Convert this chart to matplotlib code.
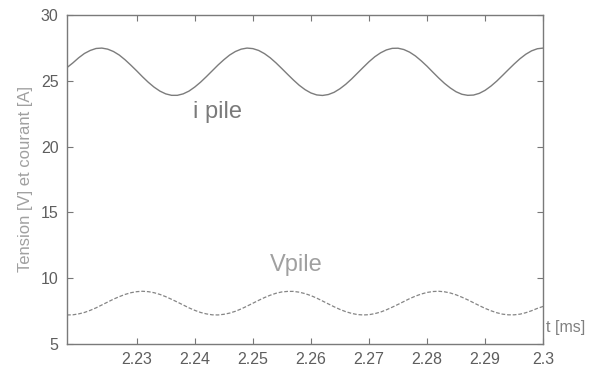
import numpy as np
import matplotlib.pyplot as plt

# time axis [ms], sampled every 0.001 ms
t = np.linspace(2.218, 2.300, 83)

# courant pile [A]
i_pile = [26.00, 26.35, 26.74, 27.07, 27.30, 27.45, 27.48, 27.40, 27.22, 26.95,
          26.59, 26.18, 25.75, 25.30, 24.88, 24.51, 24.21, 24.00, 23.89, 23.89,
          24.00, 24.21, 24.52, 24.89, 25.31, 25.75, 26.19, 26.59, 26.95, 27.22,
          27.40, 27.48, 27.44, 27.30, 27.06, 26.74, 26.35, 25.92, 25.48, 25.05,
          24.65, 24.32, 24.07, 23.92, 23.88, 23.95, 24.12, 24.39, 24.73, 25.13,
          25.57, 26.01, 26.44, 26.82, 27.12, 27.34, 27.46, 27.47, 27.37, 27.17,
          26.88, 26.51, 26.10, 25.65, 25.21, 24.80, 24.45, 24.16, 23.97, 23.89,
          23.91, 24.04, 24.27, 24.59, 24.97, 25.40, 25.84, 26.27, 26.67, 27.01,
          27.27, 27.43, 27.48]

# tension pile [V]
v_pile = [7.20, 7.21, 7.28, 7.39, 7.55, 7.74, 7.96, 8.18, 8.40, 8.59,
          8.76, 8.89, 8.97, 9.00, 8.97, 8.89, 8.76, 8.59, 8.39, 8.18,
          7.96, 7.74, 7.55, 7.39, 7.28, 7.21, 7.20, 7.25, 7.34, 7.48,
          7.66, 7.87, 8.09, 8.31, 8.52, 8.70, 8.85, 8.95, 8.99, 8.99,
          8.93, 8.82, 8.67, 8.48, 8.26, 8.04, 7.82, 7.62, 7.45, 7.32,
          7.23, 7.20, 7.22, 7.30, 7.42, 7.59, 7.79, 8.00, 8.22, 8.44,
          8.63, 8.79, 8.91, 8.98, 9.00, 8.96, 8.87, 8.73, 8.55, 8.35,
          8.13, 7.91, 7.70, 7.52, 7.37, 7.26, 7.21, 7.21, 7.26, 7.37,
          7.52, 7.70, 7.85]

xticks = [2.23, 2.24, 2.25, 2.26, 2.27, 2.28, 2.29, 2.3]
xticklabels = ['2.23', '2.24', '2.25', '2.26', '2.27', '2.28', '2.29', '2.3']
yticks = [5, 10, 15, 20, 25, 30]

plt.rcParams['font.family'] = ['Liberation Sans', 'DejaVu Sans']

fig = plt.figure(figsize=(5.93, 3.73), dpi=100)
ax = fig.add_axes([0.113, 0.078, 0.803, 0.882])

ax.plot(t, i_pile, color='#7c7c7c', lw=1.0)
ax.plot(t, v_pile, color='#858585', lw=0.9, dashes=(3, 1.5))

ax.set_xlim(2.218, 2.3)
ax.set_ylim(5, 30)
ax.set_xticks(xticks)
ax.set_xticklabels(xticklabels)
ax.set_yticks(yticks)
ax.tick_params(direction='in', length=4, color='#777777', labelcolor='#5e5e5e',
               labelsize=11.5, top=True, right=True, pad=6)
for s in ax.spines.values():
    s.set_color('#7a7a7a')
    s.set_linewidth(1.0)

ax.set_ylabel('Tension [V] et courant [A]', color='#a0a0a0', fontsize=12, labelpad=6)

ax.text(2.244, 22.6, 'i pile', color='#7a7a7a', fontsize=17, ha='center', va='center')
ax.text(2.2575, 11.0, 'Vpile', color='#a0a0a0', fontsize=17, ha='center', va='center')
fig.text(0.921, 0.121, 't [ms]', color='#808080', fontsize=11.5, ha='left', va='center')

plt.savefig('out.png', dpi=100)
